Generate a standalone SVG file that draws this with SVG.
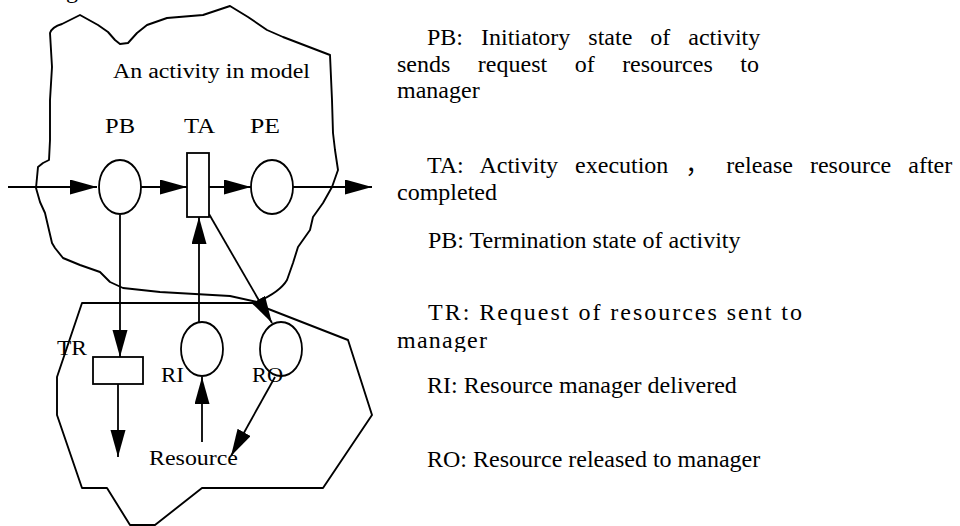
<svg xmlns="http://www.w3.org/2000/svg" width="960" height="526" viewBox="0 0 960 526">
<style>
text{font-family:"Liberation Serif","Noto Sans CJK SC",serif;fill:#000}
.lbl{font-size:20px}
.desc{font-size:24px}
.blob{fill:none;stroke:#000;stroke-width:1.9;stroke-linejoin:round}
.node{fill:#fff;stroke:#000;stroke-width:1.8}
.edge{fill:none;stroke:#000;stroke-width:1.8}
</style>
<defs>
<marker id="ah" markerUnits="userSpaceOnUse" markerWidth="28" markerHeight="16" refX="27" refY="7.5" orient="auto">
<path d="M0,0 L27,7.5 L0,15 z" fill="#000"/>
</marker>
<clipPath id="clipMgr"><rect x="390" y="320" width="120" height="32"/></clipPath>
</defs>
<rect width="960" height="526" fill="#fff"/>
<text class="desc" x="66" y="-2">g</text>
<g id="activity-region">
<path class="blob" d="M50,33 Q52,27 62,24 L80,15 L98,25 L108,32 L115,40 L120,44 L128,43 L137,33 L147,25 L167,18 L203,15 L230,6 L248,17 L267,30 L283,37 L330,55 L332,100 L333,133 L335,150 L338,170 L332,187 L323,203 L313,217 L310,230 L298,247 L293,263 L287,280 Q280,292 257,302 L230,296 L160,292 L123,288 L110,282 L100,272 L80,265 L63,258 L55,248 L52,243 L45,213 L40,202 L36,188 L38,167 L43,163 L49,160 L50,140 L50,100 L52,67 Z"/>
<text class="lbl" x="113" y="78" textLength="197" lengthAdjust="spacingAndGlyphs">An activity in model</text>
</g>
<g id="manager-region">
<path class="blob" d="M82,303 L253,303 L348,340 L372,415 L323,488 L202,488 L155,525 L130,525 L107,488 L82,488 L57,415 L57,377 Z"/>
</g>
<g id="connectors">
<line class="edge" x1="8" y1="187" x2="97" y2="187" marker-end="url(#ah)"/>
<line class="edge" x1="141" y1="187" x2="187" y2="187" marker-end="url(#ah)"/>
<line class="edge" x1="209" y1="187" x2="251" y2="187" marker-end="url(#ah)"/>
<line class="edge" x1="293" y1="187" x2="372" y2="187" marker-end="url(#ah)"/>
<line class="edge" x1="120" y1="215" x2="120" y2="357" marker-end="url(#ah)"/>
<line class="edge" x1="118" y1="384" x2="118" y2="457" marker-end="url(#ah)"/>
<line class="edge" x1="199" y1="322" x2="199" y2="217" marker-end="url(#ah)"/>
<line class="edge" x1="202" y1="442" x2="202" y2="377" marker-end="url(#ah)"/>
<line class="edge" x1="209" y1="214" x2="272" y2="323" marker-end="url(#ah)"/>
<line class="edge" x1="275" y1="377" x2="231" y2="456" marker-end="url(#ah)"/>
</g>
<g id="PB">
<ellipse class="node" cx="120" cy="187" rx="21" ry="27"/>
<text class="lbl" x="105" y="133" textLength="30" lengthAdjust="spacingAndGlyphs">PB</text>
</g>
<g id="TA">
<rect class="node" x="187" y="153" width="22" height="64"/>
<text class="lbl" x="184" y="133" textLength="31" lengthAdjust="spacingAndGlyphs">TA</text>
</g>
<g id="PE">
<ellipse class="node" cx="272" cy="187" rx="21" ry="27"/>
<text class="lbl" x="250" y="133" textLength="30" lengthAdjust="spacingAndGlyphs">PE</text>
</g>
<g id="TR">
<rect class="node" x="93" y="357" width="50" height="27"/>
<text class="lbl" x="57" y="355" textLength="30" lengthAdjust="spacingAndGlyphs">TR</text>
</g>
<g id="RI">
<ellipse class="node" cx="202" cy="349" rx="21" ry="27"/>
<text class="lbl" x="161" y="382" textLength="23" lengthAdjust="spacingAndGlyphs">RI</text>
</g>
<g id="RO">
<ellipse class="node" cx="281" cy="349" rx="21" ry="27"/>
<text class="lbl" x="252" y="382" textLength="31" lengthAdjust="spacingAndGlyphs">RO</text>
</g>
<g id="Resource">
<text class="lbl" x="149" y="465" textLength="89" lengthAdjust="spacingAndGlyphs">Resource</text>
</g>
<g id="legend">
<text class="desc" x="427" y="45" word-spacing="12">PB: Initiatory state of activity</text>
<text class="desc" x="397" y="72" word-spacing="21.5">sends request of resources to</text>
<text class="desc" x="397" y="98">manager</text>
<text class="desc" x="427" y="173" word-spacing="11">TA: Activity execution ， release resource after</text>
<text class="desc" x="397" y="200">completed</text>
<text class="desc" x="428" y="248">PB: Termination state of activity</text>
<text class="desc" x="428" y="320" textLength="374" lengthAdjust="spacing">TR: Request of resources sent to</text>
<text class="desc" x="397" y="348" clip-path="url(#clipMgr)" textLength="90" lengthAdjust="spacing">manager</text>
<text class="desc" x="427" y="393">RI: Resource manager delivered</text>
<text class="desc" x="427" y="467">RO: Resource released to manager</text>
</g>
</svg>
